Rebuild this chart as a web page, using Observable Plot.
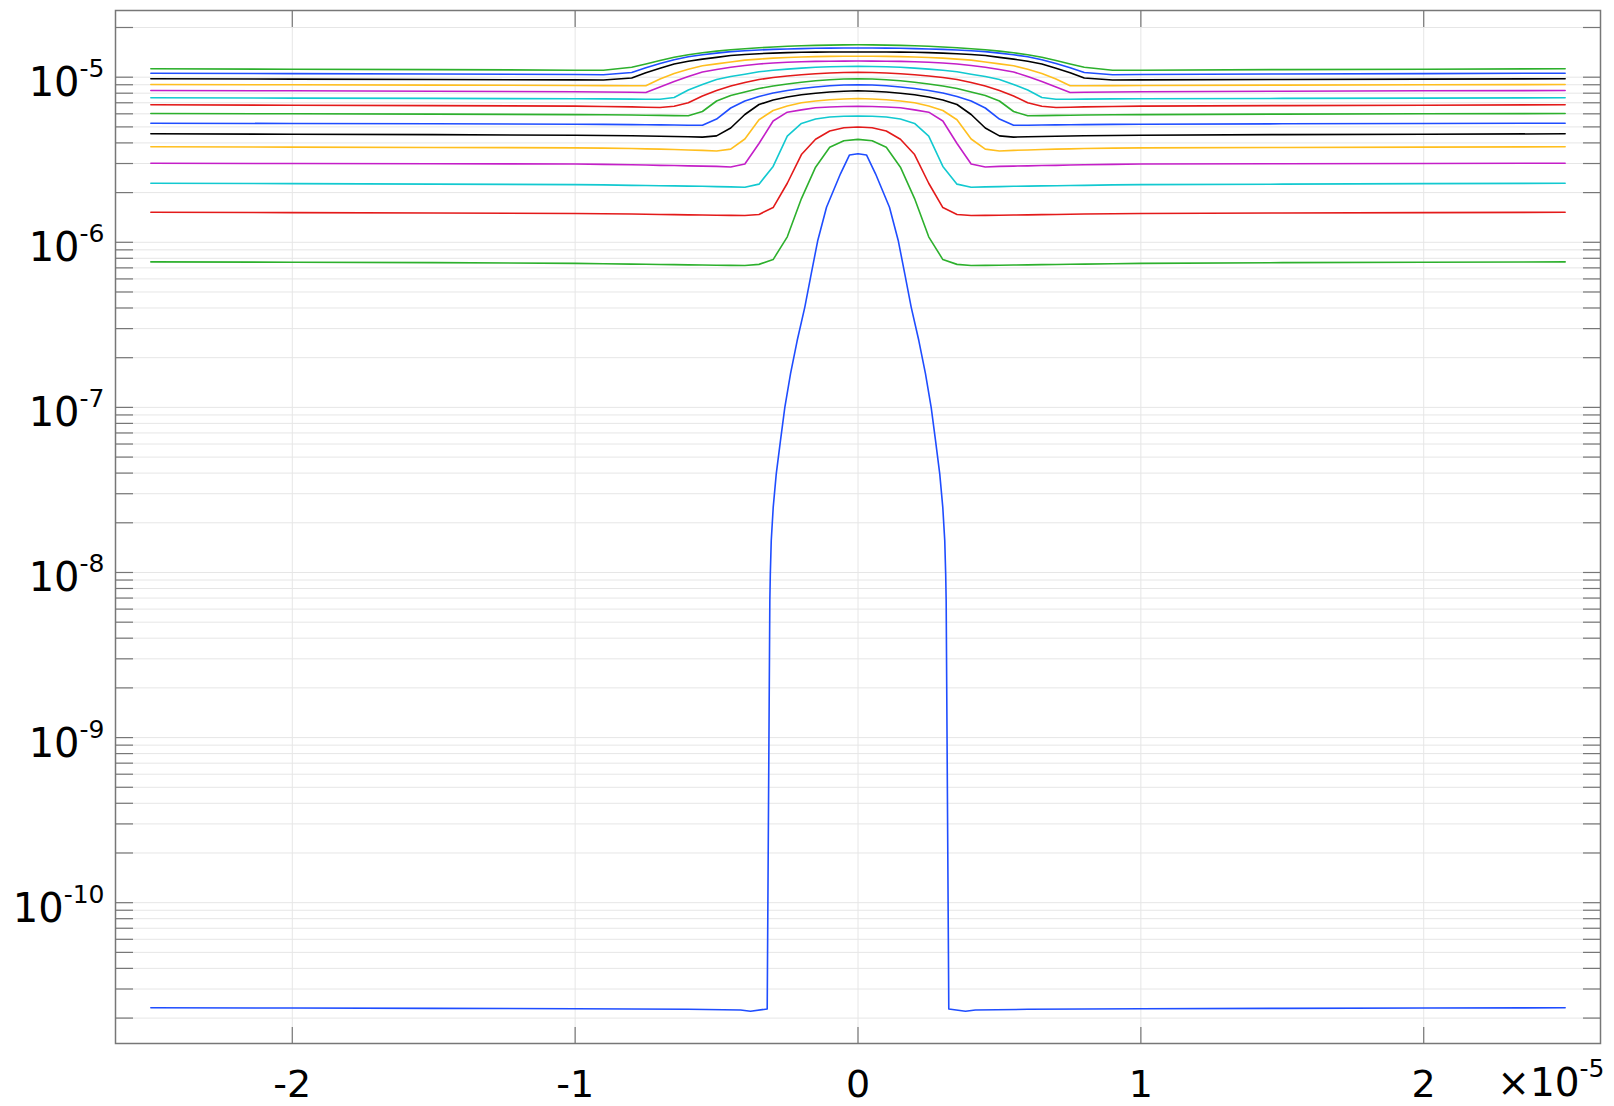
<!DOCTYPE html>
<html>
<head>
<meta charset="utf-8">
<script src="https://cdn.jsdelivr.net/npm/d3@7"></script>
<script src="https://cdn.jsdelivr.net/npm/@observablehq/plot@0.6"></script>
<style>
  html, body { margin: 0; padding: 0; background: #ffffff; }
  #chart svg { display: block; }
</style>
</head>
<body>
<div id="chart"></div>
<script>
// x positions (axis units, ×10^-5)
const xGrid = [-2.5, -2, -1.5, -1, -0.9, -0.8, -0.75, -0.7, -0.65, -0.6, -0.55, -0.5, -0.45, -0.4, -0.35, -0.3, -0.25, -0.2, -0.15, -0.1, -0.05, 0,
               0.05, 0.1, 0.15, 0.2, 0.25, 0.3, 0.35, 0.4, 0.45, 0.5, 0.55, 0.6, 0.65, 0.7, 0.75, 0.8, 0.9, 1, 1.5, 2, 2.5];

// series values on xGrid, in units of 1e-6
const s02 = [0.761, 0.757, 0.753, 0.745, 0.742, 0.738, 0.736, 0.734, 0.732, 0.730, 0.728, 0.726, 0.725, 0.723, 0.735, 0.786, 1.079, 1.84, 2.85, 3.76, 4.12, 4.20,
             4.12, 3.76, 2.85, 1.84, 1.079, 0.786, 0.735, 0.723, 0.725, 0.726, 0.728, 0.730, 0.732, 0.734, 0.736, 0.738, 0.742, 0.745, 0.753, 0.757, 0.761];
const s03 = [1.521, 1.512, 1.504, 1.495, 1.489, 1.483, 1.479, 1.475, 1.470, 1.466, 1.462, 1.458, 1.456, 1.452, 1.475, 1.623, 2.279, 3.40, 4.21, 4.72, 4.94, 4.99,
             4.94, 4.72, 4.21, 3.40, 2.279, 1.623, 1.475, 1.452, 1.456, 1.458, 1.462, 1.466, 1.470, 1.475, 1.479, 1.483, 1.489, 1.495, 1.504, 1.512, 1.521];
const s04 = [2.279, 2.266, 2.250, 2.235, 2.226, 2.213, 2.207, 2.201, 2.195, 2.189, 2.183, 2.173, 2.167, 2.155, 2.25, 2.88, 4.40, 5.25, 5.58, 5.74, 5.80, 5.82,
             5.80, 5.74, 5.58, 5.25, 4.40, 2.88, 2.25, 2.155, 2.167, 2.173, 2.183, 2.189, 2.195, 2.201, 2.207, 2.213, 2.226, 2.235, 2.250, 2.266, 2.279];
const s05 = [3.012, 3.000, 2.991, 2.983, 2.966, 2.946, 2.938, 2.925, 2.917, 2.905, 2.893, 2.881, 2.857, 2.979, 3.965, 5.43, 6.14, 6.34, 6.53, 6.60, 6.64, 6.66,
             6.64, 6.60, 6.53, 6.34, 6.14, 5.43, 3.965, 2.979, 2.857, 2.881, 2.893, 2.905, 2.917, 2.925, 2.938, 2.946, 2.966, 2.983, 2.991, 3.000, 3.012];
const s06 = [3.787, 3.771, 3.755, 3.734, 3.719, 3.698, 3.682, 3.667, 3.647, 3.626, 3.606, 3.576, 3.667, 4.222, 5.527, 6.284, 6.691, 6.996, 7.174, 7.296, 7.377, 7.429,
             7.377, 7.296, 7.174, 6.996, 6.691, 6.284, 5.527, 4.222, 3.667, 3.576, 3.606, 3.626, 3.647, 3.667, 3.682, 3.698, 3.719, 3.734, 3.755, 3.771, 3.787];
const s07 = [4.540, 4.515, 4.490, 4.446, 4.434, 4.415, 4.403, 4.390, 4.372, 4.354, 4.336, 4.41, 4.922, 5.943, 6.833, 7.275, 7.586, 7.822, 8.000, 8.134, 8.226, 8.272,
             8.226, 8.134, 8.000, 7.822, 7.586, 7.275, 6.833, 5.943, 4.922, 4.41, 4.336, 4.354, 4.372, 4.390, 4.403, 4.415, 4.434, 4.446, 4.490, 4.515, 4.540];
const s08 = [5.264, 5.242, 5.220, 5.191, 5.177, 5.162, 5.155, 5.140, 5.133, 5.119, 5.112, 5.581, 6.507, 7.174, 7.639, 8.022, 8.306, 8.541, 8.722, 8.869, 8.969, 9.007,
             8.969, 8.869, 8.722, 8.541, 8.306, 8.022, 7.639, 7.174, 6.507, 5.581, 5.112, 5.119, 5.133, 5.140, 5.155, 5.162, 5.177, 5.191, 5.220, 5.242, 5.264];
const s09 = [6.026, 6.001, 5.976, 5.935, 5.918, 5.901, 5.885, 5.869, 5.852, 5.844, 6.197, 7.174, 7.747, 8.134, 8.541, 8.844, 9.095, 9.313, 9.524, 9.657, 9.752, 9.793,
             9.752, 9.657, 9.524, 9.313, 9.095, 8.844, 8.541, 8.134, 7.747, 7.174, 6.197, 5.844, 5.852, 5.869, 5.885, 5.901, 5.918, 5.935, 5.976, 6.001, 6.026];
const s10 = [6.804, 6.766, 6.729, 6.682, 6.645, 6.608, 6.580, 6.553, 6.673, 7.006, 7.693, 8.306, 8.844, 9.288, 9.684, 9.958, 10.169, 10.341, 10.486, 10.604, 10.678, 10.708,
             10.678, 10.604, 10.486, 10.341, 10.169, 9.958, 9.684, 9.288, 8.844, 8.306, 7.693, 7.006, 6.673, 6.553, 6.580, 6.608, 6.645, 6.682, 6.729, 6.766, 6.804];
const s11 = [7.502, 7.471, 7.439, 7.398, 7.387, 7.367, 7.357, 7.347, 7.534, 8.365, 9.032, 9.684, 10.098, 10.413, 10.782, 11.011, 11.196, 11.354, 11.481, 11.562, 11.610, 11.626,
             11.610, 11.562, 11.481, 11.354, 11.196, 11.011, 10.782, 10.413, 10.098, 9.684, 9.032, 8.365, 7.534, 7.347, 7.357, 7.367, 7.387, 7.398, 7.439, 7.471, 7.502];
const s12 = [8.306, 8.272, 8.226, 8.168, 8.134, 8.100, 8.077, 8.722, 9.431, 10.112, 10.753, 11.134, 11.481, 11.773, 12.023, 12.191, 12.311, 12.397, 12.466, 12.501, 12.518, 12.536,
             12.518, 12.501, 12.466, 12.397, 12.311, 12.191, 12.023, 11.773, 11.481, 11.134, 10.753, 10.112, 9.431, 8.722, 8.077, 8.100, 8.134, 8.168, 8.226, 8.272, 8.306];
const s13 = [9.032, 8.994, 8.956, 8.906, 8.894, 8.882, 8.88, 9.752, 10.544, 11.181, 11.725, 12.039, 12.363, 12.695, 12.873, 13.054, 13.164, 13.255, 13.330, 13.367, 13.386, 13.405,
             13.386, 13.367, 13.330, 13.255, 13.164, 13.054, 12.873, 12.695, 12.363, 12.039, 11.725, 11.181, 10.544, 9.752, 8.88, 8.882, 8.894, 8.906, 8.956, 8.994, 9.032];
const s14 = [9.779, 9.739, 9.684, 9.630, 9.617, 9.889, 10.648, 11.322, 12.006, 12.483, 12.873, 13.181, 13.536, 13.726, 13.880, 13.996, 14.094, 14.174, 14.193, 14.20, 14.21, 14.22,
             14.21, 14.20, 14.193, 14.174, 14.094, 13.996, 13.880, 13.726, 13.536, 13.181, 12.873, 12.483, 12.006, 11.322, 10.648, 9.889, 9.617, 9.630, 9.684, 9.739, 9.779];
const s15 = [10.574, 10.515, 10.456, 10.384, 10.355, 10.678, 11.417, 12.106, 12.766, 13.293, 13.669, 13.996, 14.293, 14.473, 14.616, 14.739, 14.820, 14.903, 14.966, 15.008, 15.029, 15.04,
             15.029, 15.008, 14.966, 14.903, 14.820, 14.739, 14.616, 14.473, 14.293, 13.996, 13.669, 13.293, 12.766, 12.106, 11.417, 10.678, 10.355, 10.384, 10.456, 10.515, 10.574];
const s16 = [11.244, 11.181, 11.119, 11.026, 11.011, 11.481, 12.023, 12.624, 13.200, 13.669, 14.055, 14.392, 14.657, 14.883, 15.071, 15.240, 15.390, 15.498, 15.585, 15.650, 15.693, 15.715,
             15.693, 15.650, 15.585, 15.498, 15.390, 15.240, 15.071, 14.883, 14.657, 14.392, 14.055, 13.669, 13.200, 12.624, 12.023, 11.481, 11.011, 11.026, 11.119, 11.181, 11.244];

// first (lowest) series has its own x positions
const s01X = [-2.5, -2, -1.5, -1, -0.6, -0.415, -0.38, -0.321, -0.3117, -0.31, -0.3067, -0.2997, -0.289, -0.274, -0.2587, -0.2385, -0.215, -0.188, -0.1654, -0.142, -0.1113, -0.062, -0.03, 0,
              0.03, 0.062, 0.1113, 0.142, 0.1654, 0.188, 0.215, 0.2385, 0.2587, 0.274, 0.289, 0.2997, 0.3067, 0.31, 0.3117, 0.321, 0.38, 0.415, 0.6, 1, 1.5, 2, 2.5];
const s01Y = [2.31e-11, 2.30e-11, 2.29e-11, 2.28e-11, 2.26e-11, 2.24e-11, 2.20e-11, 2.27e-11, 6.77e-9, 9.8e-9, 1.56e-8, 2.49e-8, 3.96e-8, 6.31e-8, 1.00e-7, 1.60e-7, 2.54e-7, 4.05e-7, 6.44e-7, 1.03e-6, 1.63e-6, 2.60e-6, 3.38e-6, 3.44e-6,
              3.38e-6, 2.60e-6, 1.63e-6, 1.03e-6, 6.44e-7, 4.05e-7, 2.54e-7, 1.60e-7, 1.00e-7, 6.31e-8, 3.96e-8, 2.49e-8, 1.56e-8, 9.8e-9, 6.77e-9, 2.27e-11, 2.20e-11, 2.24e-11, 2.26e-11, 2.28e-11, 2.29e-11, 2.30e-11, 2.31e-11];

const seriesColors = ["#1f4dff", "#2db02d", "#e31a1a", "#12c9d0", "#c41fc8", "#ffbf1f", "#000000"];
const xTicks = [-2, -1, 0, 1, 2];
const yDecades = [1e-10, 1e-9, 1e-8, 1e-7, 1e-6, 1e-5];
const xScaleBase = "×10";
const xScaleExp = "-5";

// minor tick values for the log axis (1..9 × each decade)
const yMinor = [];
for (let e = -11; e <= -5; e++) for (let m = 1; m <= 9; m++) {
  const v = m * Math.pow(10, e);
  if (v >= 1.5e-11 && v <= 2.5e-5) yMinor.push(v);
}

const upper = [s02, s03, s04, s05, s06, s07, s08, s09, s10, s11, s12, s13, s14, s15, s16];

const lineMarks = [];
lineMarks.push(Plot.line(s01X.map((x, i) => ({x, y: s01Y[i]})), {x: "x", y: "y", stroke: seriesColors[0], strokeWidth: 1.6}));
upper.forEach((vals, k) => {
  const color = seriesColors[(k + 1) % seriesColors.length];
  lineMarks.push(Plot.line(xGrid.map((x, i) => ({x, y: vals[i] * 1e-6})), {x: "x", y: "y", stroke: color, strokeWidth: 1.6}));
});

const axisGray = "#777777";
const chart = Plot.plot({
  width: 1614,
  height: 1106,
  marginLeft: 115,
  marginRight: 14,
  marginTop: 10,
  marginBottom: 63,
  style: {fontFamily: "'DejaVu Sans', sans-serif", background: "#ffffff", color: "#000000"},
  x: {domain: [-2.625, 2.625], label: null},
  y: {type: "log", domain: [1.403e-11, 2.535e-5], label: null},
  marks: [
    Plot.gridX({ticks: xTicks, stroke: "#e6e6e6", strokeOpacity: 1, strokeWidth: 1}),
    Plot.gridY({ticks: yMinor, stroke: "#e6e6e6", strokeOpacity: 1, strokeWidth: 1}),
    ...lineMarks,
    Plot.frame({stroke: axisGray, strokeWidth: 1.5}),
    Plot.axisY({anchor: "left", ticks: yMinor, tickSize: 18, dx: 18, tickFormat: () => "", stroke: axisGray, strokeWidth: 1.2, label: null}),
    Plot.axisY({anchor: "right", ticks: yMinor, tickSize: 18, dx: -18, tickFormat: () => "", stroke: axisGray, strokeWidth: 1.2, label: null}),
    Plot.axisX({anchor: "bottom", ticks: xTicks, tickSize: 16, dy: -16, tickFormat: () => "", stroke: axisGray, strokeWidth: 1.2, label: null}),
    Plot.axisX({anchor: "top", ticks: xTicks, tickSize: 16, dy: 16, tickFormat: () => "", stroke: axisGray, strokeWidth: 1.2, label: null}),
    Plot.text(yDecades, {y: d => d, text: d => "10^" + Math.round(Math.log10(d)), frameAnchor: "left", textAnchor: "end", lineAnchor: "bottom", dx: -11, dy: 19, fontSize: 40, fill: "#000000"}),
    Plot.text(xTicks, {x: d => d, text: d => String(d), frameAnchor: "bottom", lineAnchor: "bottom", dy: 53, fontSize: 38, fill: "#000000"}),
    Plot.text([xScaleBase + "^" + xScaleExp], {text: d => d, frameAnchor: "bottom-right", textAnchor: "end", lineAnchor: "bottom", dx: 4, dy: 52, fontSize: 39, fill: "#000000"})
  ]
});

document.getElementById("chart").appendChild(chart);

// turn "base^exp" texts into base + superscript exponent
const NS = "http://www.w3.org/2000/svg";
chart.querySelectorAll("text").forEach(t => {
  const s = t.textContent;
  const i = s.indexOf("^");
  if (i < 0) return;
  const base = s.slice(0, i), exp = s.slice(i + 1);
  while (t.firstChild) t.removeChild(t.firstChild);
  t.appendChild(document.createTextNode(base));
  const ts = document.createElementNS(NS, "tspan");
  ts.setAttribute("font-size", "25");
  ts.setAttribute("dy", "-19");
  ts.textContent = exp;
  t.appendChild(ts);
});
</script>
</body>
</html>
